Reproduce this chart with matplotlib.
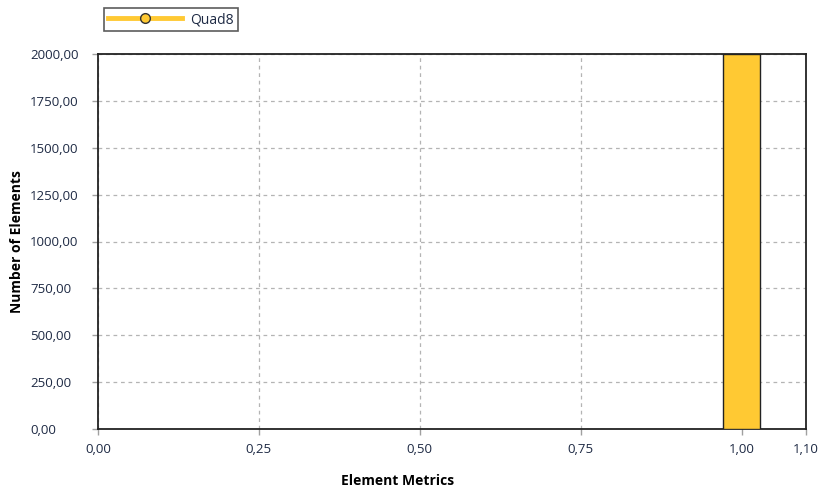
import matplotlib.pyplot as plt
from matplotlib.lines import Line2D

plt.rcParams['font.family'] = ['Open Sans', 'DejaVu Sans']

# histogram of element quality metric
bin_centers = [1.00]
bin_width = 0.0575
counts = [2000]
series_name = "Quad8"
x_ticks = [0.0, 0.25, 0.5, 0.75, 1.0, 1.1]
y_ticks = [0, 250, 500, 750, 1000, 1250, 1500, 1750, 2000]

bar_color = "#ffc933"


def comma(v):
    return f"{v:.2f}".replace(".", ",")


fig = plt.figure(figsize=(8.19, 4.88), dpi=100)
ax = fig.add_axes([98 / 819, 1 - 429 / 488, 708 / 819, 375 / 488])

ax.bar(bin_centers, counts, width=bin_width, color=bar_color,
       edgecolor="#222222", linewidth=1.0, zorder=3)

ax.set_xlim(0, 1.1)
ax.set_ylim(0, 2000)
ax.set_xticks(x_ticks, labels=[comma(v) for v in x_ticks])
# y tick labels are left-aligned in a column
ax.set_yticks(y_ticks, labels=[comma(v) for v in y_ticks], ha="left")

ax.grid(True, color="#b4b4b4", linestyle=(0, (3, 3)), linewidth=0.9, zorder=0)
ax.tick_params(axis="both", direction="out", length=4, width=1,
               color="#a0a0a0", labelsize=9.5, labelcolor="#1e2a44")
ax.tick_params(axis="x", pad=6)
ax.tick_params(axis="y", pad=45)
for s in ax.spines.values():
    s.set_color("#222222")
    s.set_linewidth(1.3)

ax.set_xlabel("Element Metrics", fontsize=10, fontweight="bold")
ax.set_ylabel("Number of Elements", fontsize=10, fontweight="bold")
ax.xaxis.set_label_coords(0.4237, -0.12)
ax.yaxis.set_label_coords(-0.104, 0.5)

handle = Line2D([], [], color=bar_color, linewidth=3.5, marker="o",
                markersize=7, markerfacecolor=bar_color,
                markeredgecolor="#333333", markeredgewidth=1)
leg = fig.legend([handle], [series_name], loc="upper left",
                 bbox_to_anchor=(104 / 819, 1 - 8 / 488), fontsize=10,
                 frameon=True, fancybox=False, handlelength=5.3,
                 borderpad=0.3, handletextpad=0.6, borderaxespad=0)
leg.get_frame().set_edgecolor("#333333")
leg.get_frame().set_linewidth(1.2)
for t in leg.get_texts():
    t.set_color("#1e2a44")

fig.savefig("out.png", dpi=100)
